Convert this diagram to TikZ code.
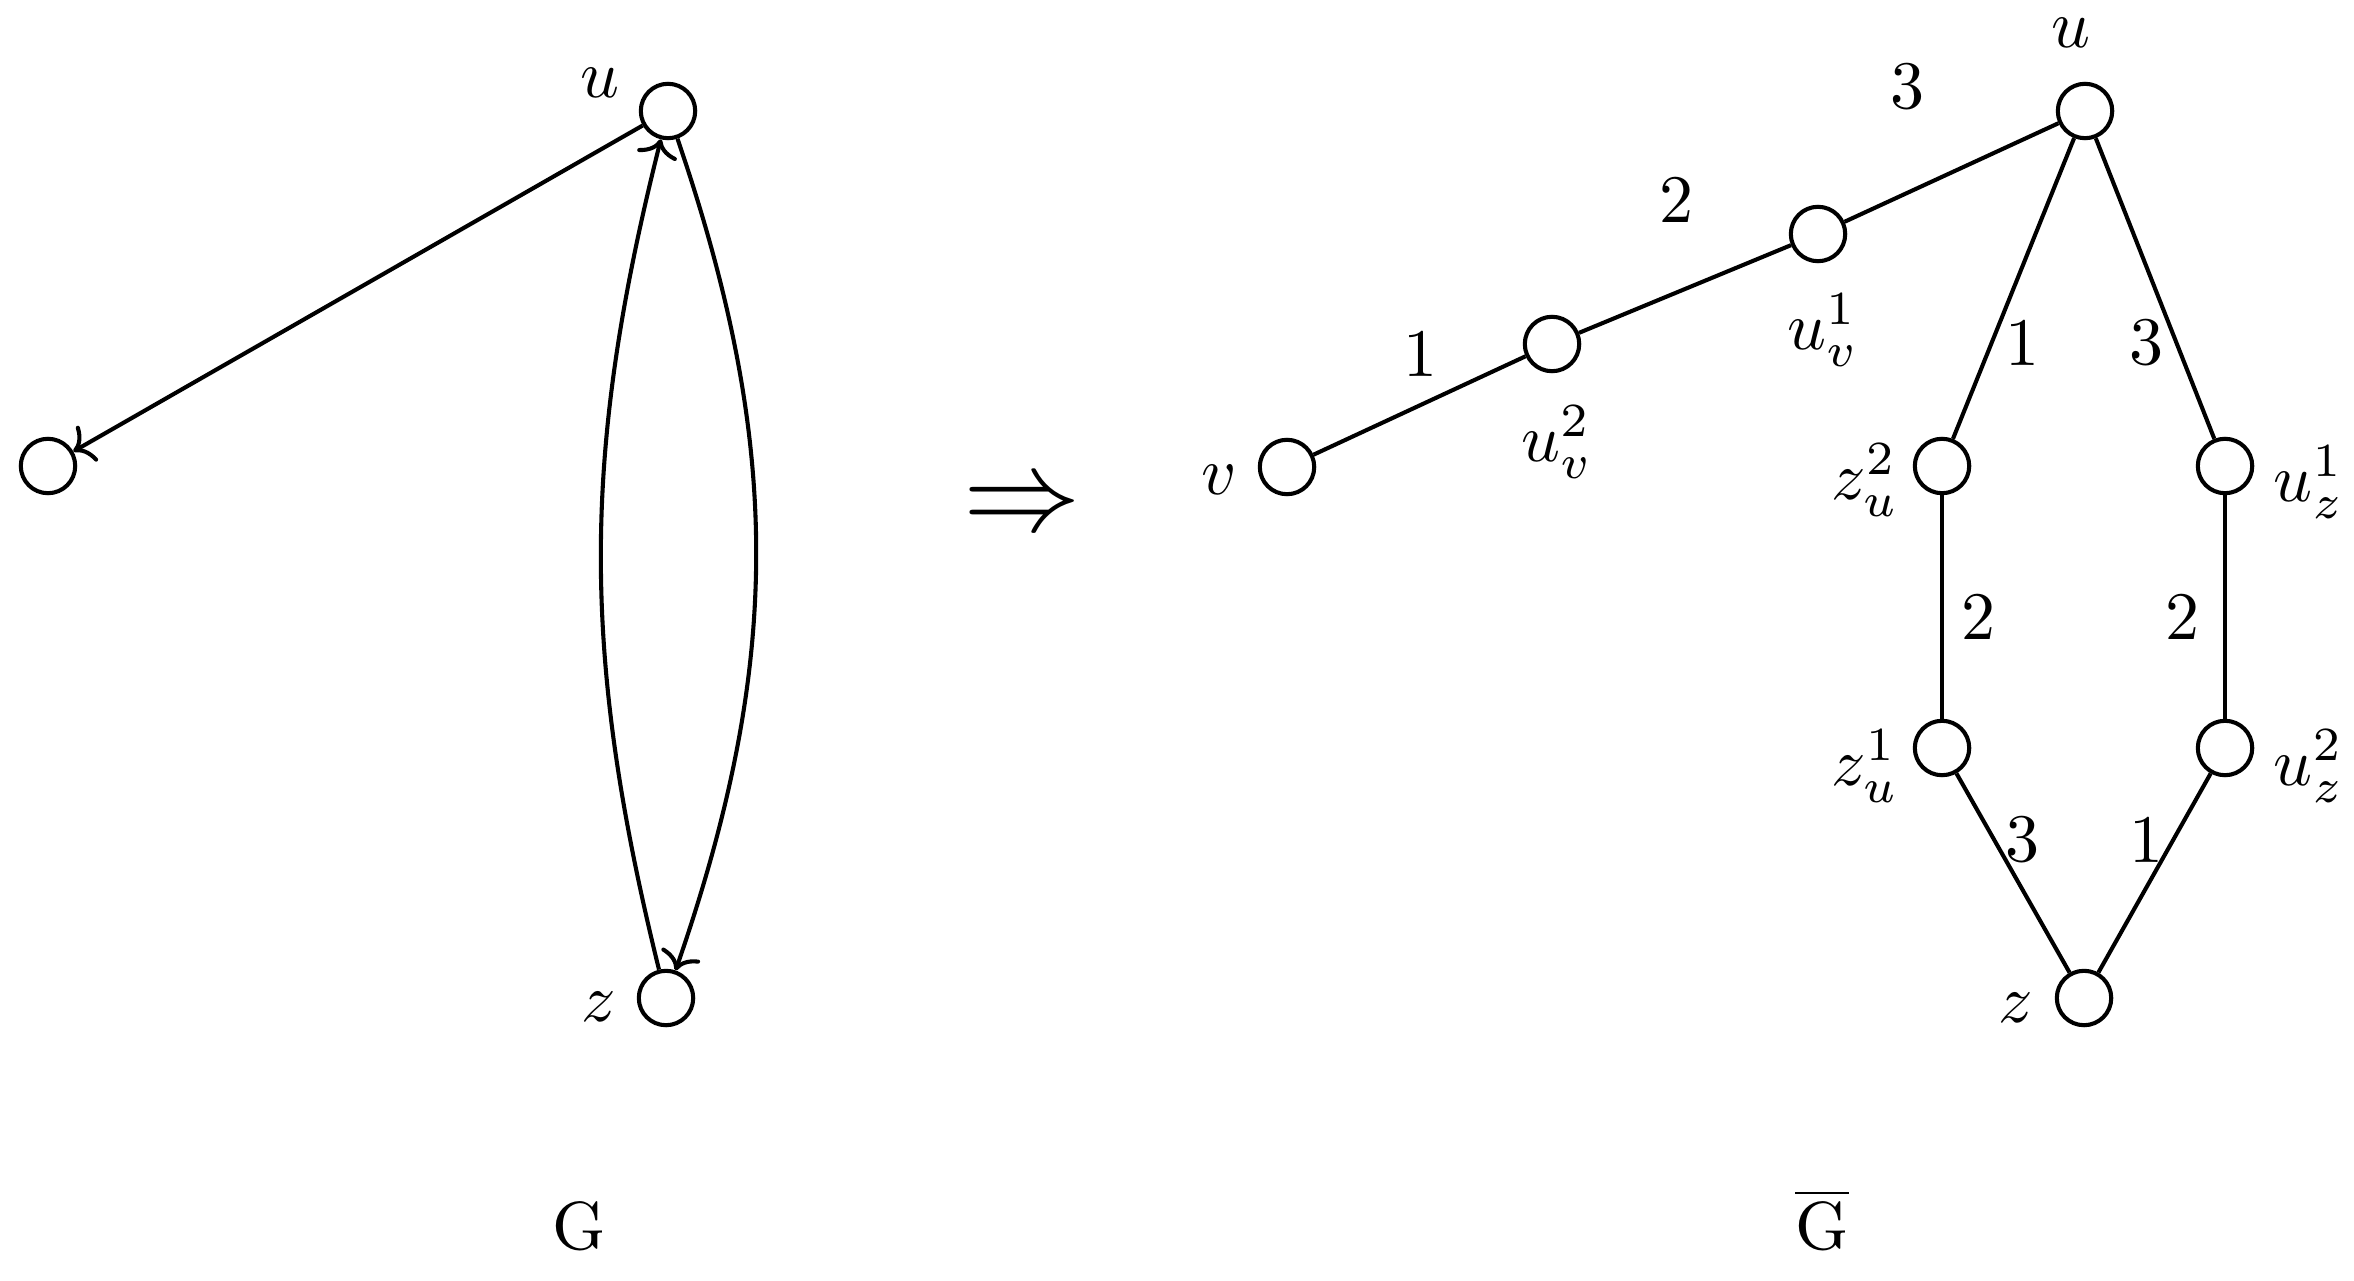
\documentclass[tikz,border=0pt]{standalone}
\usetikzlibrary{arrows.meta}
\begin{document}
\begin{tikzpicture}[x=0.147pt,y=0.147pt,
  vtx/.style={circle,draw,line width=0.6pt,inner sep=0pt,minimum size=8pt},
  edge/.style={line width=0.6pt},
  arc/.style={line width=0.6pt,-{To[length=2.6pt,width=6pt]}},
  lbl/.style={inner sep=0pt}]
\useasboundingbox (0,0) rectangle (2354,-1280);

% ---------- left graph G ----------
\node[vtx] (Lu) at (668,-111) {};
\node[vtx] (Lx) at (48,-466) {};
\node[vtx] (Lz) at (666,-998) {};
\node[lbl] (LuL) at (600,-83) {$u$};
\node[lbl] (LzL) at (599,-1007) {$z$};

\draw[arc] (Lu) -- (Lx);
\draw[arc] (Lz) to[bend left=14] (Lu);
\draw[arc] (Lu) to[bend left=19] (Lz);

\node[lbl,anchor=base] (GL) at (579,-1249) {G};

% ---------- implication ----------
\node[lbl] (impl) at (1022,-509) {\fontsize{16}{16}\selectfont$\Rightarrow$};

% ---------- right graph G-bar ----------
\node[vtx] (v)   at (1287,-467) {};
\node[vtx] (uv2) at (1552,-344) {};
\node[vtx] (uv1) at (1818,-234) {};
\node[vtx] (Ru)  at (2085,-111) {};
\node[vtx] (zu2) at (1942,-466) {};
\node[vtx] (uz1) at (2225,-466) {};
\node[vtx] (zu1) at (1942,-748) {};
\node[vtx] (uz2) at (2225,-748) {};
\node[vtx] (Rz)  at (2084,-998) {};

\draw[edge] (v) -- (uv2);
\draw[edge] (uv2) -- (uv1);
\draw[edge] (uv1) -- (Ru);
\draw[edge] (Ru) -- (zu2);
\draw[edge] (Ru) -- (uz1);
\draw[edge] (zu2) -- (zu1);
\draw[edge] (uz1) -- (uz2);
\draw[edge] (zu1) -- (Rz);
\draw[edge] (uz2) -- (Rz);

% vertex labels
\node[lbl] (vL)   at (1219,-480) {$v$};
\node[lbl] (uv2L) at (1557,-442) {$u_v^2$};
\node[lbl] (uv1L) at (1823,-330) {$u_v^1$};
\node[lbl] (RuL)  at (2071,-33) {$u$};
\node[lbl] (zu2L) at (1865,-480) {$z_u^2$};
\node[lbl] (uz1L) at (2309,-482) {$u_z^1$};
\node[lbl] (zu1L) at (1865,-766) {$z_u^1$};
\node[lbl] (uz2L) at (2309,-766) {$u_z^2$};
\node[lbl] (RzL)  at (2016,-1008) {$z$};

% edge weights
\node[lbl] (w1) at (1420,-354) {1};
\node[lbl] (w2) at (1676,-200) {2};
\node[lbl] (w3) at (1907,-87) {3};
\node[lbl] (w4) at (2022,-343) {1};
\node[lbl] (w5) at (2146,-343) {3};
\node[lbl] (w6) at (1978,-617) {2};
\node[lbl] (w7) at (2182,-617) {2};
\node[lbl] (w8) at (2022,-840) {3};
\node[lbl] (w9) at (2146,-840) {1};

\node[lbl,anchor=base] (GR) at (1822,-1249) {$\overline{\mathrm{G}}$};
\end{tikzpicture}
\end{document}
